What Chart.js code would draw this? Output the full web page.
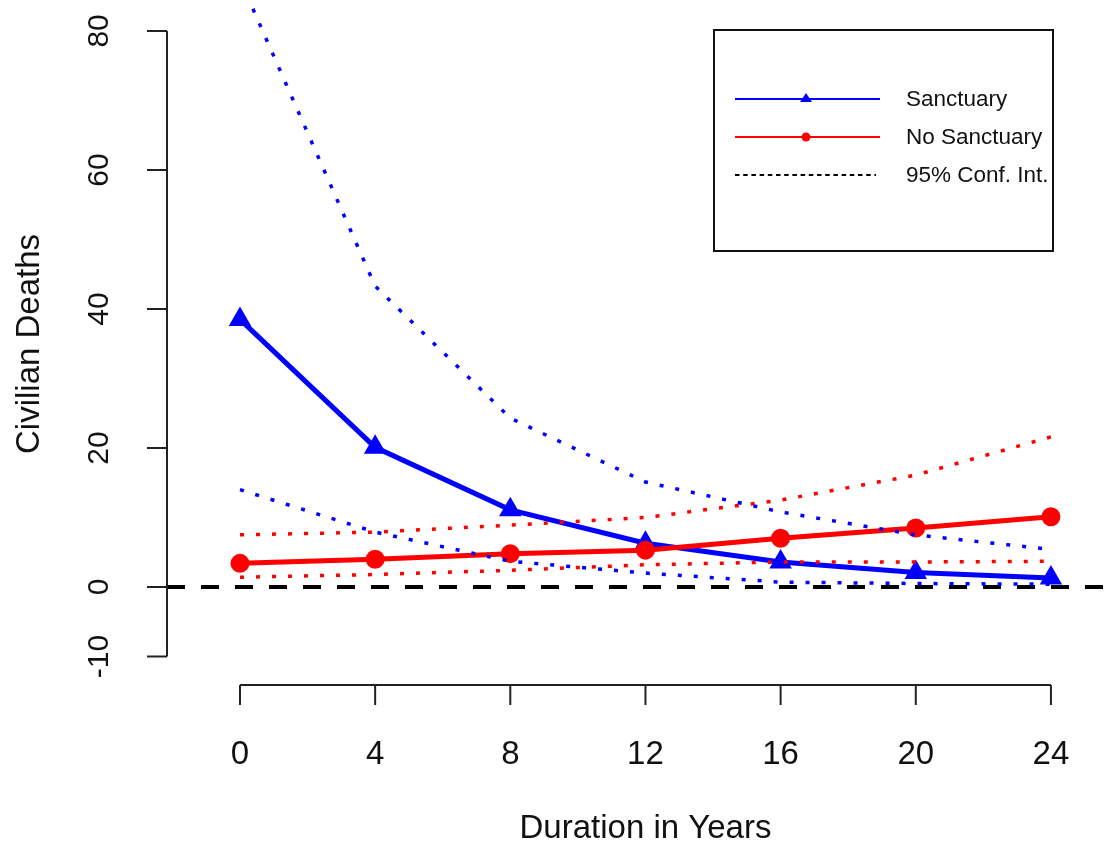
<!DOCTYPE html>
<html>
<head>
<meta charset="utf-8">
<script src="https://cdn.jsdelivr.net/npm/chart.js@4"></script>
<style>
  html, body { margin: 0; padding: 0; background: #fff; }
  #wrap { width: 1105px; height: 846px; }
</style>
</head>
<body>
<div id="wrap"><canvas id="deathsChart" width="1105" height="846"></canvas></div>
<script>
// values
const years = [0, 4, 8, 12, 16, 20, 24];
const sanctuary = [38.5, 20.1, 11.1, 6.3, 3.6, 2.1, 1.3];
const sanctuaryUpper = [87.4, 43.3, 24.3, 15.1, 10.8, 7.5, 5.4];
const sanctuaryLower = [14.0, 7.9, 3.7, 2.0, 0.7, 0.5, 0.4];
const noSanctuary = [3.4, 4.0, 4.8, 5.3, 7.0, 8.5, 10.1];
const noSanctuaryUpper = [7.5, 7.9, 8.9, 10.0, 12.5, 16.1, 21.6];
const noSanctuaryLower = [1.4, 1.8, 2.4, 3.2, 3.6, 3.6, 3.7];

const yTicks = [-10, 0, 20, 40, 60, 80];
const xTicks = [0, 4, 8, 12, 16, 20, 24];
const legendLabels = ['Sanctuary', 'No Sanctuary', '95% Conf. Int.'];
const xTitle = 'Duration in Years';
const yTitle = 'Civilian Deaths';

// plot region limits (R pads the axes)
const xMin = -2.16, xMax = 25.6;
const yMin = -14.1, yMax = 84.45;

const BLUE = '#0000ff';
const RED = '#ff0000';
const FONT = '"Liberation Sans", Arial, sans-serif';

function pts(ys) {
  return years.map((x, i) => ({ x: x, y: ys[i] }));
}

function ciLine(ys, color) {
  return {
    data: pts(ys),
    borderColor: color,
    borderWidth: 3.5,
    borderDash: [4, 12],
    borderCapStyle: 'butt',
    pointRadius: 0,
    fill: false
  };
}

// axes, titles and legend are drawn R-style here
const rAxesPlugin = {
  id: 'rAxes',
  afterDraw(chart) {
    const ctx = chart.ctx;
    const xs = chart.scales.x;
    const ys = chart.scales.y;
    const area = chart.chartArea;
    ctx.save();
    ctx.strokeStyle = '#222';
    ctx.lineWidth = 2;
    ctx.fillStyle = '#111';

    // y axis
    const axX = area.left;
    ctx.beginPath();
    ctx.moveTo(axX, ys.getPixelForValue(yTicks[0]));
    ctx.lineTo(axX, ys.getPixelForValue(yTicks[yTicks.length - 1]));
    yTicks.forEach(v => {
      const py = ys.getPixelForValue(v);
      ctx.moveTo(axX, py);
      ctx.lineTo(axX - 20, py);
    });
    ctx.stroke();

    ctx.font = '30px ' + FONT;
    ctx.textAlign = 'center';
    ctx.textBaseline = 'middle';
    yTicks.forEach(v => {
      const py = ys.getPixelForValue(v);
      ctx.save();
      ctx.translate(100, py);
      ctx.rotate(-Math.PI / 2);
      ctx.fillText(String(v), 0, 0);
      ctx.restore();
    });

    // x axis
    const axY = area.bottom;
    ctx.beginPath();
    ctx.moveTo(xs.getPixelForValue(xTicks[0]), axY);
    ctx.lineTo(xs.getPixelForValue(xTicks[xTicks.length - 1]), axY);
    xTicks.forEach(v => {
      const px = xs.getPixelForValue(v);
      ctx.moveTo(px, axY);
      ctx.lineTo(px, axY + 20);
    });
    ctx.stroke();
    ctx.font = '33px ' + FONT;
    xTicks.forEach(v => {
      ctx.fillText(String(v), xs.getPixelForValue(v), 755);
    });

    // titles
    ctx.font = '33px ' + FONT;
    ctx.fillText(xTitle, (xs.getPixelForValue(0) + xs.getPixelForValue(24)) / 2, 829);
    ctx.save();
    ctx.translate(30, ys.getPixelForValue(40) + 35);
    ctx.rotate(-Math.PI / 2);
    ctx.fillText(yTitle, 0, 0);
    ctx.restore();

    // legend box
    ctx.lineWidth = 2;
    ctx.strokeStyle = '#111';
    ctx.strokeRect(714, 30, 339, 221);
    const rows = [99, 137, 175];
    const colors = [BLUE, RED, '#000'];
    rows.forEach((ry, i) => {
      ctx.beginPath();
      ctx.strokeStyle = colors[i];
      ctx.lineWidth = 2;
      ctx.setLineDash(i === 2 ? [4.5, 3.7] : []);
      ctx.moveTo(735, ry);
      ctx.lineTo(i === 2 ? 876 : 880, ry);
      ctx.stroke();
    });
    ctx.setLineDash([]);
    // markers
    ctx.fillStyle = BLUE;
    ctx.beginPath();
    ctx.moveTo(806, 99 - 6);
    ctx.lineTo(812, 99 + 3);
    ctx.lineTo(800, 99 + 3);
    ctx.closePath();
    ctx.fill();
    ctx.fillStyle = RED;
    ctx.beginPath();
    ctx.arc(806, 137, 4.5, 0, Math.PI * 2);
    ctx.fill();

    ctx.fillStyle = '#111';
    ctx.font = '22.5px ' + FONT;
    ctx.textAlign = 'left';
    legendLabels.forEach((t, i) => ctx.fillText(t, 906, rows[i] + 1));
    ctx.restore();
  }
};

new Chart(document.getElementById('deathsChart'), {
  type: 'line',
  data: {
    datasets: [
      ciLine(sanctuaryUpper, BLUE),
      ciLine(sanctuaryLower, BLUE),
      ciLine(noSanctuaryUpper, RED),
      ciLine(noSanctuaryLower, RED),
      {
        data: pts(noSanctuary),
        borderColor: RED,
        backgroundColor: RED,
        borderWidth: 5,
        pointStyle: 'circle',
        pointRadius: 9.5,
        pointBorderWidth: 0,
        fill: false
      },
      {
        data: pts(sanctuary),
        borderColor: BLUE,
        backgroundColor: BLUE,
        borderWidth: 5,
        pointStyle: 'triangle',
        pointRadius: 13,
        pointBorderWidth: 0,
        fill: false
      },
      {
        // zero reference line
        data: [{ x: xMin, y: 0 }, { x: xMax, y: 0 }],
        borderColor: '#000',
        borderWidth: 4,
        borderDash: [18, 16],
        pointRadius: 0,
        fill: false
      }
    ]
  },
  options: {
    responsive: false,
    animation: false,
    layout: { autoPadding: false, padding: { left: 167, top: 0, right: 0, bottom: 161 } },
    plugins: { legend: { display: false }, tooltip: { enabled: false } },
    scales: {
      x: { type: 'linear', min: xMin, max: xMax, display: false },
      y: { type: 'linear', min: yMin, max: yMax, display: false }
    }
  },
  plugins: [rAxesPlugin]
});
</script>
</body>
</html>
